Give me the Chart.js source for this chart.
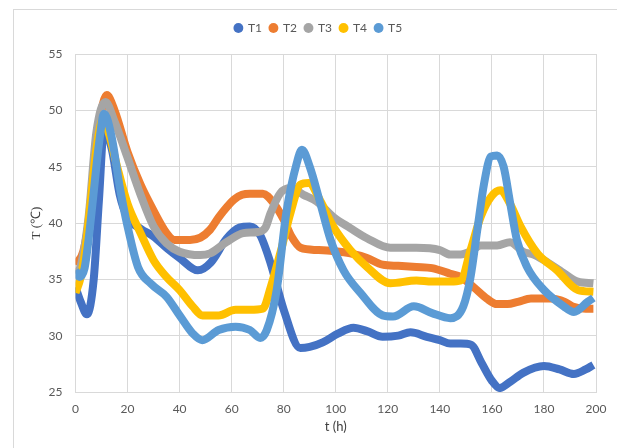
<!DOCTYPE html>
<html>
<head>
<meta charset="utf-8">
<script src="https://cdn.jsdelivr.net/npm/chart.js@4/dist/chart.umd.min.js"></script>
<style>
  html, body { margin: 0; padding: 0; background: #fff; }
  #wrap { position: relative; width: 617px; height: 448px; }
  #frame { position: absolute; left: 13px; top: 9px; right: -5px; bottom: -5px;
           border-left: 1px solid #d9d9d9; border-top: 1px solid #d9d9d9; }
  canvas { position: absolute; left: 0; top: 0; }
</style>
</head>
<body>
<div id="wrap">
  <div id="frame"></div>
  <canvas id="myChart" width="617" height="448"></canvas>
</div>
<script>
//Datos
const seriesNames = ['T1', 'T2', 'T3', 'T4', 'T5'];
const seriesColors = ['#4472C4', '#ED7D31', '#A5A5A5', '#FFC000', '#5B9BD5'];

const t1 = [0, 2, 4.4, 7, 9, 11, 14, 17, 20, 25, 30, 35, 40, 47, 52, 58, 63, 67, 71, 75, 80, 86.4, 90, 95, 101, 106.8, 112, 118, 124, 128.7, 135, 140, 144, 148, 152, 156, 160, 163, 167, 172, 180, 186, 191.5, 196, 199];
const y1 = [34.3, 33.0, 31.9, 35.0, 42.0, 48.4, 46.5, 42.5, 40.5, 39.5, 38.8, 37.8, 36.9, 35.8, 36.5, 38.6, 39.6, 39.7, 38.9, 36.4, 32.3, 28.9, 29.0, 29.4, 30.2, 30.7, 30.4, 29.9, 30.0, 30.3, 29.9, 29.6, 29.3, 29.3, 29.2, 27.6, 26.0, 25.35, 25.9, 26.7, 27.3, 27.0, 26.6, 27.0, 27.4];

const t2 = [0, 3, 6, 9, 12, 15, 20, 25, 30, 35, 38, 44, 48, 51.7, 55, 58.3, 61, 64, 67, 72, 76, 80, 83, 86.5, 93, 99, 105.6, 112, 118, 124, 131, 137, 144, 148, 153, 158, 162, 166, 170, 175, 182.6, 188, 191, 196, 199];
const y2 = [36.3, 37.5, 41.5, 48.5, 51.35, 50.0, 46.3, 43.4, 41.1, 39.1, 38.5, 38.5, 38.7, 39.4, 40.5, 41.45, 42.1, 42.5, 42.6, 42.6, 41.8, 40.3, 38.8, 37.8, 37.6, 37.5, 37.3, 36.9, 36.3, 36.2, 36.1, 36.0, 35.5, 35.2, 34.3, 33.3, 32.8, 32.8, 33.0, 33.3, 33.3, 33.0, 32.6, 32.4, 32.4];

const t3 = [0, 2, 5, 8, 11.5, 15, 20, 25, 30, 35, 40, 48, 51.7, 58, 64.5, 70, 73, 75, 78.7, 82.6, 87.6, 92.7, 99, 105.6, 112, 121, 131, 140, 144, 148, 152, 155.7, 162, 167, 172, 176, 180, 187.6, 193, 199];
const y3 = [35.5, 36.2, 40.5, 48.0, 50.75, 49.0, 45.8, 42.5, 39.7, 38.2, 37.45, 37.15, 37.3, 38.3, 39.1, 39.2, 39.6, 40.9, 42.65, 43.1, 42.5, 41.9, 40.55, 39.55, 38.65, 37.8, 37.8, 37.6, 37.2, 37.2, 37.5, 38.0, 38.0, 38.3, 37.45, 37.2, 36.7, 35.55, 34.8, 34.65];

const t4 = [0, 2, 4, 5.6, 8, 10.6, 13, 16, 20, 25, 30, 35, 40, 45, 48.8, 55, 61.5, 67, 72, 75, 79, 82.6, 86.4, 89.6, 94, 99, 105.6, 112, 121, 131, 137, 144, 148, 151.8, 155.7, 159.6, 163.3, 167, 171, 177.5, 185, 193, 199];
const y4 = [33.8, 35.2, 38.0, 41.4, 46.5, 49.2, 47.8, 45.0, 41.7, 39.1, 36.7, 35.2, 34.05, 32.6, 31.8, 31.8, 32.3, 32.3, 32.4, 34.3, 37.6, 40.9, 43.4, 43.55, 42.0, 39.7, 37.6, 36.1, 34.65, 34.9, 34.8, 34.8, 34.9, 37.6, 40.55, 42.3, 42.9, 41.7, 39.7, 37.3, 35.8, 34.05, 33.9];

const t5 = [0, 1.5, 3.5, 5, 6.8, 9, 11, 14, 17, 20, 24, 29, 35, 40, 45, 48.7, 55, 61.5, 67, 71, 73.5, 77.3, 81, 85, 87, 90, 94, 98, 103, 109.5, 118, 122, 130, 137, 144, 149, 151.8, 154.4, 157, 159.6, 162, 164.5, 167, 169.6, 173.5, 180, 187.6, 191.5, 196.8, 199];
const y5 = [35.8, 35.2, 36.0, 38.5, 42.3, 47.0, 49.7, 47.5, 43.2, 39.7, 36.1, 34.6, 33.45, 31.8, 30.2, 29.6, 30.5, 30.8, 30.5, 29.8, 30.5, 34.05, 40.9, 45.3, 46.5, 45.0, 41.8, 38.5, 35.8, 33.8, 31.8, 31.7, 32.6, 32.0, 31.55, 32.6, 35.2, 39.4, 43.5, 45.9, 46.0, 45.0, 41.8, 38.5, 36.1, 34.05, 32.6, 32.1, 33.0, 33.35];

const xTicks = [0, 20, 40, 60, 80, 100, 120, 140, 160, 180, 200];
const yTicks = [25, 30, 35, 40, 45, 50, 55];

const tiempos = [t1, t2, t3, t4, t5];
const valores = [y1, y2, y3, y4, y5];

const fuente = 'Lato, "Open Sans", sans-serif';
const gris = '#595959';
const oscuro = '#404040';

//armamos los datasets
const datasets = seriesNames.map((nombre, i) => ({
    label: nombre,
    data: tiempos[i].map((t, j) => ({ x: t, y: valores[i][j] })),
    borderColor: seriesColors[i],
    backgroundColor: seriesColors[i],
    borderWidth: 8,
    pointRadius: 0,
    pointStyle: 'circle',
    showLine: true,
    cubicInterpolationMode: 'monotone',
    order: 5 - i
}));

//la leyenda: mas espacio abajo y un poco corrida a la derecha
const ajusteLeyenda = {
    id: 'ajusteLeyenda',
    beforeLayout(chart) {
        const ley = chart.legend;
        if (!ley || ley._ajustada) return;
        ley._ajustada = true;
        const fitOrig = ley.fit;
        ley.fit = function () { fitOrig.call(this); this.height += 10; };
        const drawOrig = ley.draw;
        ley.draw = function () {
            const c = this.ctx;
            c.save();
            c.translate(6, 0);
            drawOrig.call(this);
            c.restore();
        };
    }
};

let ctx = document.getElementById('myChart').getContext('2d');
let myChart = new Chart(ctx, {
    type: 'scatter',
    data: { datasets: datasets },
    plugins: [ajusteLeyenda],
    options: {
        responsive: false,
        animation: false,
        layout: { padding: { left: 29, top: 14, right: 21, bottom: 13 } },
        plugins: {
            legend: {
                position: 'top',
                labels: {
                    usePointStyle: true,
                    pointStyle: 'circle',
                    boxWidth: 7,
                    boxHeight: 7,
                    padding: 8,
                    color: gris,
                    font: { family: fuente, size: 12 },
                    sort: (a, b) => a.datasetIndex - b.datasetIndex,
                    generateLabels: (chart) => {
                        const items = Chart.defaults.plugins.legend.labels.generateLabels(chart);
                        items.forEach(it => { it.lineWidth = 0; it.pointStyle = 'circle'; });
                        return items;
                    }
                }
            },
            tooltip: { enabled: false }
        },
        scales: {
            x: {
                type: 'linear',
                min: 0, max: 200,
                afterBuildTicks: (axis) => { axis.ticks = xTicks.map(v => ({ value: v })); },
                afterFit: (axis) => { axis.height = 43; },
                grid: { color: '#d9d9d9', drawTicks: false },
                border: { color: '#d9d9d9' },
                ticks: { color: gris, padding: 10, font: { family: fuente, size: 12 } },
                title: { display: true, text: 't (h)', color: oscuro, padding: { top: 0, bottom: 0 }, font: { family: fuente, size: 13 } }
            },
            y: {
                min: 25, max: 55,
                afterBuildTicks: (axis) => { axis.ticks = yTicks.map(v => ({ value: v })); },
                afterFit: (axis) => { axis.width = 46.5; },
                grid: { color: '#d9d9d9', drawTicks: false },
                border: { color: '#d9d9d9' },
                ticks: { color: gris, padding: 13, font: { family: fuente, size: 12 } },
                title: { display: true, text: 'T (℃)', color: oscuro, padding: { top: 0, bottom: 0 }, font: { family: '"Liberation Serif", serif', size: 13 } }
            }
        }
    }
});
</script>
</body>
</html>
